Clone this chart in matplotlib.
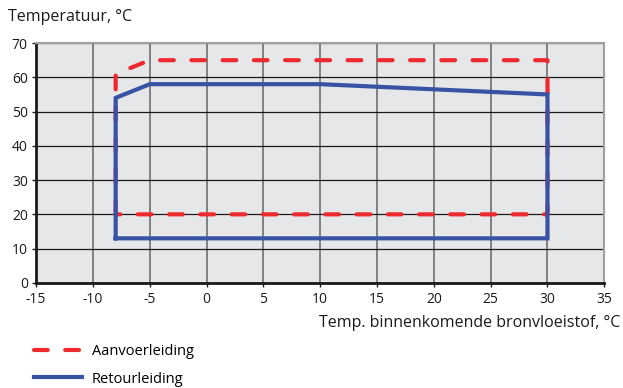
import matplotlib
matplotlib.use("Agg")
import matplotlib.pyplot as plt
from matplotlib.lines import Line2D

plt.rcParams['font.family'] = ['Open Sans', 'DejaVu Sans']
plt.rcParams['axes.unicode_minus'] = False

supply_x = [-8, -8, -5, 30, 30, -8]
supply_y = [20, 61, 65, 65, 20, 20]
return_x = [-8, -8, -5, 10, 30, 30, -8]
return_y = [13, 54, 58, 58, 55, 13, 13]
xticks = list(range(-15, 36, 5))
yticks = list(range(0, 71, 10))

fig = plt.figure(figsize=(6.23, 3.88), dpi=100)
ax = fig.add_axes([0.058, 0.271, 0.912, 0.618])
ax.set_facecolor('#e6e7e9')
ax.set_xlim(-15, 35)
ax.set_ylim(0, 70)
ax.set_xticks(xticks)
ax.set_yticks(yticks)
for x in xticks:
    ax.axvline(x, color='#707070', lw=1.2, zorder=1)
for y in yticks:
    ax.axhline(y, color='#1a1a1a', lw=0.9, zorder=1)

ax.plot(supply_x, supply_y, color='#ee2a2e', lw=3, dashes=(3.3, 4.2), zorder=3,
        dash_capstyle='round')
ax.plot(return_x, return_y, color='#3953a4', lw=3, zorder=4, solid_joinstyle='miter')

for s in ['top', 'right']:
    ax.spines[s].set_color('#a0a0a0')
    ax.spines[s].set_linewidth(1.5)
for s in ['left', 'bottom']:
    ax.spines[s].set_color('#1a1a1a')
    ax.spines[s].set_linewidth(2)
ax.tick_params(axis='both', labelsize=10, colors='#1a1a1a', length=3, width=1)
ax.tick_params(axis='x', pad=3.5)
ax.tick_params(axis='y', pad=3)

fig.text(0.013, 0.935, 'Temperatuur, °C', fontsize=11.5, color='#1a1a1a', ha='left', va='bottom')
fig.text(0.995, 0.148, 'Temp. binnenkomende bronvloeistof, °C', fontsize=11.5, color='#1a1a1a',
         ha='right', va='bottom')

handles = [Line2D([0], [0], color='#ee2a2e', lw=3, dashes=(3.3, 4.2), dash_capstyle='round'),
           Line2D([0], [0], color='#3953a4', lw=3)]
fig.legend(handles, ['Aanvoerleiding', 'Retourleiding'], loc='lower left',
           bbox_to_anchor=(0.033, -0.03), frameon=False, fontsize=10.5,
           handlelength=3.3, labelspacing=0.85, handletextpad=0.7)

fig.savefig('out.png', dpi=100)
